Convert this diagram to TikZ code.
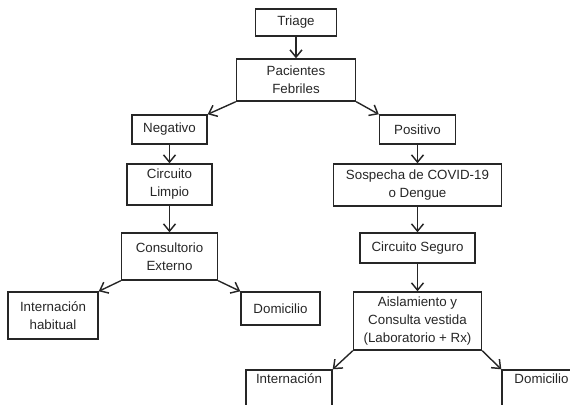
\documentclass[tikz,border=0pt]{standalone}
\usepackage{fontspec}
\setmainfont{Liberation Sans}
\usetikzlibrary{arrows.meta}

\begin{document}
\begin{tikzpicture}[x=0.75pt, y=-0.75pt,
  caja/.style={draw=black!85, line width=1.05pt, align=center, inner sep=2pt,
    font=\fontsize{10}{13.5}\selectfont, text=black!85},
  flecha/.style={-{Straight Barb[length=5.5pt,width=9pt,line width=1.1pt]}, line width=1.05pt, draw=black!85}]
  % Page frame (pixel units of the reference)
  \useasboundingbox (0,0) rectangle (570,404);
  \clip (0,0) rectangle (570,404);

  % Top of the tree
  \node[caja, minimum width=60.75pt, minimum height=20.25pt] (triage) at (296,22.5) {Triage};
  \node[caja, minimum width=89.25pt, minimum height=31.5pt] (pacientes) at (296,80) {Pacientes\\Febriles};

  % Negative branch
  \node[caja, minimum width=56.25pt, minimum height=21.75pt] (negativo) at (169.5,129.5) {Negativo};
  \node[caja, minimum width=63.75pt, minimum height=30.75pt] (limpio) at (169.5,184.5) {Circuito\\Limpio};
  \node[caja, minimum width=72pt, minimum height=35.25pt] (externo) at (169.5,256.5) {Consultorio\\Externo};
  \node[caja, minimum width=67.5pt, minimum height=35.25pt] (habitual) at (53,315.5) {Internación\\habitual};
  \node[caja, minimum width=59.25pt, minimum height=24.75pt] (domicilioA) at (280.5,308.5) {Domicilio};

  % Positive branch
  \node[caja, minimum width=57pt, minimum height=21.75pt] (positivo) at (417.5,129.5) {Positivo};
  \node[caja, minimum width=126pt, minimum height=31.5pt] (sospecha) at (417.5,185) {Sospecha de COVID-19\\o Dengue};
  \node[caja, minimum width=86.25pt, minimum height=22.5pt] (seguro) at (417.5,248) {Circuito Seguro};
  \node[caja, minimum width=96pt, minimum height=43.5pt] (aislamiento) at (417.5,321) {Aislamiento y\\Consulta vestida\\(Laboratorio + Rx)};
  \node[caja, minimum width=64.5pt, minimum height=30pt] (internacion) at (289,390) {Internación\\\strut};
  \node[caja, minimum width=59.25pt, minimum height=30pt] (domicilioB) at (541.5,390) {Domicilio\\\strut};

  % Connectors
  \draw[flecha] (triage) -- (pacientes);
  \draw[flecha] (pacientes.south west) -- (negativo.north east);
  \draw[flecha] (pacientes.south east) -- (positivo.north west);
  \draw[flecha] (negativo) -- (limpio);
  \draw[flecha] (limpio) -- (externo);
  \draw[flecha] (externo.south west) -- (habitual.north east);
  \draw[flecha] (externo.south east) -- (domicilioA.north west);
  \draw[flecha] (positivo) -- (sospecha);
  \draw[flecha] (sospecha) -- (seguro);
  \draw[flecha] (seguro) -- (aislamiento);
  \draw[flecha] (aislamiento.south west) -- (internacion.north east);
  \draw[flecha] (aislamiento.south east) -- (domicilioB.north west);
\end{tikzpicture}
\end{document}
